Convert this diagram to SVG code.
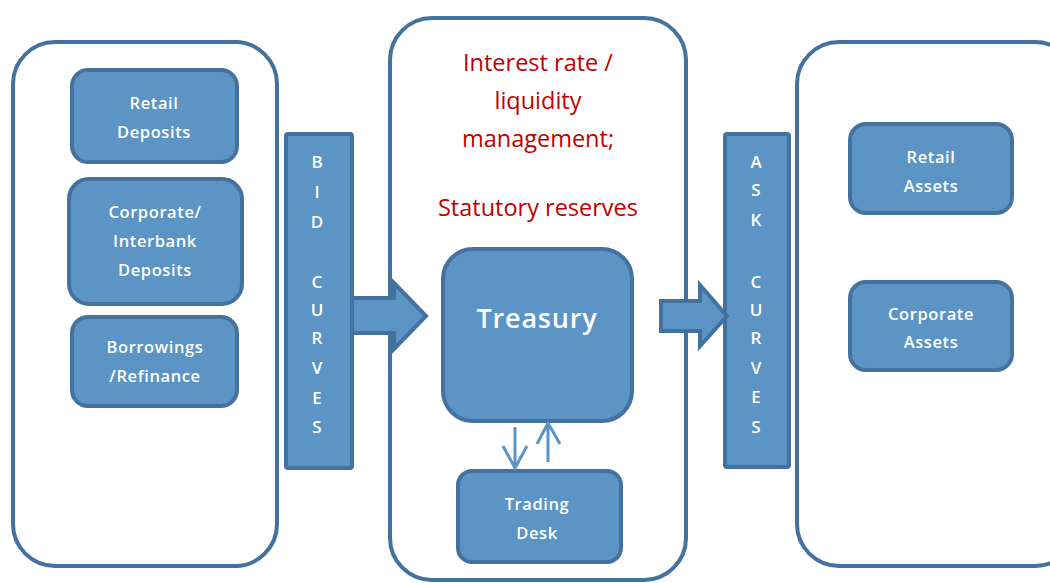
<svg xmlns="http://www.w3.org/2000/svg" width="1050" height="583" viewBox="0 0 1050 583">
<style>
.cont{fill:#fff;stroke:#44729E;stroke-width:4}
.box{fill:#5B94C5;stroke:#44729E;stroke-width:4}
.lbl{font-family:"Open Sans","Liberation Sans",sans-serif;font-size:16.5px;font-weight:600;letter-spacing:0.6px;fill:#fff;text-anchor:middle}
.let{font-family:"Open Sans","Liberation Sans",sans-serif;font-size:17px;font-weight:600;fill:#fff;text-anchor:middle}
.red{font-family:"Open Sans","Liberation Sans",sans-serif;font-size:23.5px;fill:#C00000;text-anchor:middle}
.thin{stroke:#5B94C5;stroke-width:3;fill:none}
</style>
<rect width="1050" height="583" fill="#fff"/>
<g id="left-container"><rect class="cont" x="13" y="42" width="264" height="524" rx="42"/></g>
<g id="middle-container"><rect class="cont" x="390" y="18" width="296" height="562" rx="42"/></g>
<g id="right-container"><rect class="cont" x="797" y="42" width="280" height="524" rx="42"/></g>

<g id="retail-deposits"><rect class="box" x="72" y="70" width="165" height="92" rx="16"/>
<text class="lbl" x="154" y="109">Retail</text><text class="lbl" x="154" y="138">Deposits</text></g>
<g id="corporate-deposits"><rect class="box" x="69" y="179" width="173" height="125" rx="20"/>
<text class="lbl" x="155" y="218">Corporate/</text><text class="lbl" x="155" y="247">Interbank</text><text class="lbl" x="155" y="276">Deposits</text></g>
<g id="borrowings"><rect class="box" x="72" y="317" width="165" height="89" rx="16"/>
<text class="lbl" x="155" y="353">Borrowings</text><text class="lbl" x="155" y="382">/Refinance</text></g>

<g id="bid-curves"><rect class="box" x="286" y="134" width="66" height="334" rx="2"/>
<text class="let" x="317" y="168">B</text><text class="let" x="317" y="198">I</text><text class="let" x="317" y="228">D</text>
<text class="let" x="317" y="288">C</text><text class="let" x="317" y="316">U</text><text class="let" x="317" y="344">R</text>
<text class="let" x="317" y="374">V</text><text class="let" x="317" y="404">E</text><text class="let" x="317" y="433">S</text></g>

<g id="ask-curves"><rect class="box" x="725" y="134" width="64" height="333" rx="2"/>
<text class="let" x="756" y="168">A</text><text class="let" x="756" y="196">S</text><text class="let" x="756" y="226">K</text>
<text class="let" x="756" y="288">C</text><text class="let" x="756" y="316">U</text><text class="let" x="756" y="344">R</text>
<text class="let" x="756" y="374">V</text><text class="let" x="756" y="403">E</text><text class="let" x="756" y="433">S</text></g>

<g id="red-text">
<text class="red" x="538" y="71">Interest rate /</text>
<text class="red" x="538" y="109">liquidity</text>
<text class="red" x="538" y="147">management;</text>
<text class="red" x="538" y="216">Statutory reserves</text>
</g>

<g id="treasury"><rect class="box" x="443" y="249" width="189" height="172" rx="30"/>
<text class="lbl" x="537" y="328" style="font-size:27px;letter-spacing:0.8px">Treasury</text></g>
<g id="trading-desk"><rect class="box" x="458" y="471" width="163" height="91" rx="14"/>
<text class="lbl" x="537" y="510">Trading</text><text class="lbl" x="537" y="539">Desk</text></g>

<g id="retail-assets"><rect class="box" x="850" y="124" width="162" height="89" rx="16"/>
<text class="lbl" x="931" y="163">Retail</text><text class="lbl" x="931" y="192">Assets</text></g>
<g id="corporate-assets"><rect class="box" x="850" y="282" width="162" height="88" rx="16"/>
<text class="lbl" x="931" y="320">Corporate</text><text class="lbl" x="931" y="348">Assets</text></g>

<g id="connectors">
<path class="box" d="M352 298 H394 V283 L426 316 L394 349 V333 H352 Z"/>
<path class="box" d="M661 301 H700 V285 L727 316 L700 346 V331 H661 Z"/>
<path class="thin" d="M515 427 V468 M503 446 L515 468 L527 446"/>
<path class="thin" d="M548 462 V423 M537 444 L548 423 L560 444"/>
</g>
</svg>
